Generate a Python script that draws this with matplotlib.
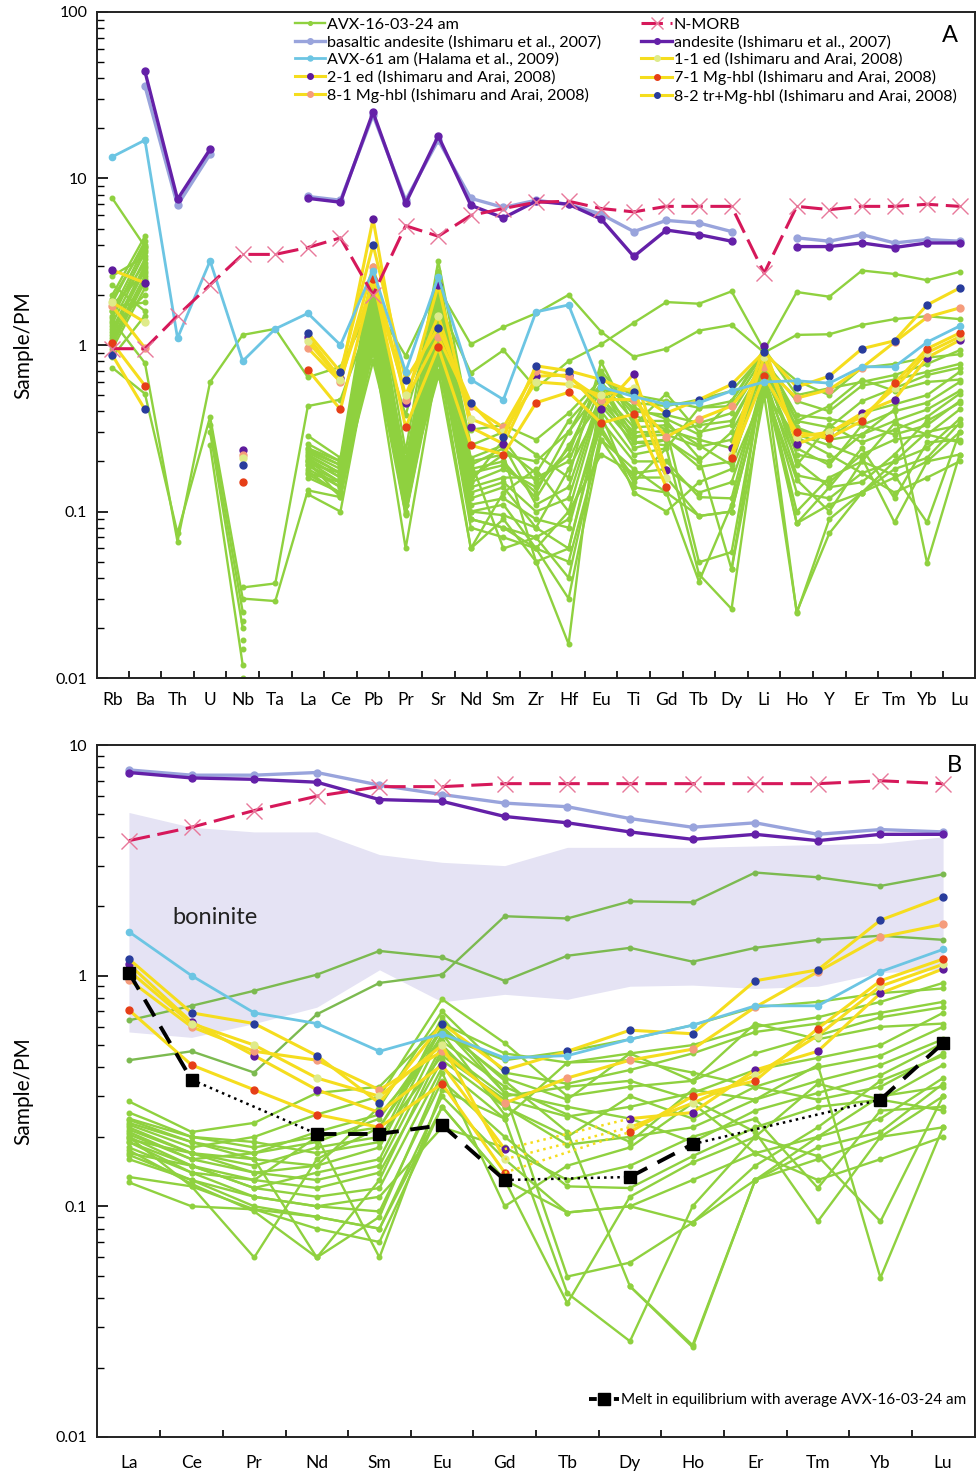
import numpy as np
import matplotlib.pyplot as plt
from matplotlib.lines import Line2D
from matplotlib.ticker import FixedLocator, FixedFormatter, NullFormatter

plt.rcParams['font.family'] = ['Lato', 'DejaVu Sans']

N = np.nan

# element order of the spider diagram (panel A) and REE subset (panel B)
elements = ['Rb', 'Ba', 'Th', 'U', 'Nb', 'Ta', 'La', 'Ce', 'Pb', 'Pr', 'Sr', 'Nd', 'Sm', 'Zr',
            'Hf', 'Eu', 'Ti', 'Gd', 'Tb', 'Dy', 'Li', 'Ho', 'Y', 'Er', 'Tm', 'Yb', 'Lu']
ree = ['La', 'Ce', 'Pr', 'Nd', 'Sm', 'Eu', 'Gd', 'Tb', 'Dy', 'Ho', 'Er', 'Tm', 'Yb', 'Lu']

# reference compositions (normalised to primitive mantle)
nmorb = [0.95, 0.95, 1.5, 2.3, 3.5, 3.5, 3.85, 4.4, 2.0, 5.2, 4.5, 6.0, 6.6, 7.2,
         7.3, 6.6, 6.3, 6.8, 6.8, 6.8, 2.7, 6.8, 6.5, 6.8, 6.8, 7.0, 6.8]
bas_andesite = [N, 36, 6.9, 14, N, N, 7.8, 7.4, 24, 7.4, 17, 7.6, 6.7, 7.4,
                7.0, 6.1, 4.8, 5.6, 5.4, 4.8, N, 4.4, 4.2, 4.6, 4.1, 4.3, 4.2]
andesite = [N, 44, 7.5, 15, N, N, 7.6, 7.2, 25, 7.1, 18, 6.9, 5.8, 7.3,
            7.0, 5.7, 3.4, 4.9, 4.6, 4.2, N, 3.9, 3.9, 4.1, 3.85, 4.1, 4.1]
avx61 = [13.5, 17, 1.1, 3.2, 0.8, 1.25, 1.55, 1.0, 2.8, 0.69, 2.56, 0.62, 0.47, 1.58,
         1.74, 0.56, 0.49, 0.44, 0.45, 0.53, 0.6, 0.61, 0.59, 0.74, 0.74, 1.04, 1.3]

# Ishimaru and Arai (2008) amphiboles
ed_1_1 = [1.8, 1.37, N, N, 0.21, N, 1.05, 0.62, 2.4, 0.5, 1.5, 0.36, 0.3, 0.6,
          0.58, 0.5, 0.55, 0.16, N, 0.22, 0.85, 0.28, 0.3, 0.37, 0.55, 0.9, 1.12]
ed_2_1 = [2.82, 2.36, N, N, 0.234, N, 1.12, 0.63, 5.7, 0.45, 2.29, 0.32, 0.255, 0.65,
          0.66, 0.41, 0.67, 0.177, N, 0.24, 0.99, 0.255, 0.296, 0.39, 0.47, 0.84, 1.07]
hbl_7_1 = [1.03, 0.57, N, N, 0.15, N, 0.71, 0.41, 2.5, 0.32, 0.97, 0.25, 0.22, 0.45,
           0.52, 0.34, 0.385, 0.14, N, 0.21, 0.65, 0.30, 0.276, 0.35, 0.59, 0.95, 1.18]
hbl_8_1 = [1.71, 0.96, N, N, 0.22, N, 0.96, 0.6, 2.95, 0.47, 1.12, 0.43, 0.32, 0.70,
           0.64, 0.47, 0.47, 0.28, 0.36, 0.43, 0.74, 0.48, 0.54, 0.73, 1.04, 1.47, 1.67]
hbl_8_2 = [0.87, 0.41, N, N, 0.19, N, 1.18, 0.69, 4.0, 0.62, 1.27, 0.45, 0.28, 0.75,
           0.70, 0.62, 0.52, 0.39, 0.47, 0.58, 0.91, 0.56, 0.65, 0.95, 1.06, 1.74, 2.2]

# AVX-16-03-24 amphibole analyses
avx16 = [
    [1.4, 0.78, 0.066, 0.60, 1.15, 1.25, 0.64, 0.74, 1.8, 0.86, 2.2, 1.01, 1.28, 1.55, 2.0, 1.2, 0.85, 0.95, 1.22, 1.32, 0.9, 1.15, 1.16, 1.32, 1.43, 1.49, 1.43],
    [7.6, 3.9, N, N, 0.035, 0.037, 0.43, 0.47, 1.6, 0.38, 1.8, 0.68, 0.93, 0.55, 0.8, 1.01, 1.36, 1.81, 1.77, 2.1, 0.93, 2.08, 1.95, 2.8, 2.67, 2.45, 2.75],
    [0.73, 0.51, 0.074, 0.37, 0.03, 0.029, 0.134, 0.122, 1.2, 0.097, 0.9, 0.09, 0.08, 0.06, 0.05, 0.27, 0.18, 0.13, 0.094, 0.1, 0.6, 0.085, 0.11, 0.13, 0.16, 0.2, 0.3],
    [2.0, 4.5, N, N, N, N, 0.285, 0.21, 3.0, 0.23, 3.2, 0.31, 0.33, 0.27, 0.39, 0.62, 0.5, 0.46, 0.42, 0.46, 0.95, 0.5, 0.55, 0.6, 0.66, 0.77, 0.93],
    [1.8, 4.2, N, N, N, N, 0.255, 0.2, 2.6, 0.18, 2.8, 0.2, 0.22, 0.2, 0.3, 0.55, 0.45, 0.43, 0.47, 0.53, 0.88, 0.61, 0.5, 0.73, 0.77, 0.84, 0.88],
    [1.6, 3.9, N, 0.33, 0.025, N, 0.237, 0.19, 2.3, 0.16, 2.5, 0.15, 0.27, 0.15, 0.22, 0.7, 0.4, 0.38, 0.34, 0.39, 0.8, 0.46, 0.4, 0.57, 0.62, 0.69, 0.77],
    [1.5, 3.6, N, N, N, N, 0.226, 0.18, 2.0, 0.2, 2.2, 0.25, 0.3, 0.22, 0.16, 0.79, 0.33, 0.51, 0.3, 0.33, 0.78, 0.35, 0.32, 0.46, 0.55, 0.66, 0.73],
    [1.35, 3.3, N, 0.3, 0.02, N, 0.215, 0.17, 1.9, 0.15, 2.0, 0.18, 0.2, 0.12, 0.25, 0.45, 0.28, 0.29, 0.245, 0.27, 0.72, 0.31, 0.27, 0.39, 0.44, 0.5, 0.69],
    [1.25, 3.0, N, N, 0.022, N, 0.205, 0.16, 1.7, 0.14, 1.8, 0.13, 0.15, 0.1, 0.12, 0.5, 0.24, 0.27, 0.185, 0.2, 0.7, 0.22, 0.2, 0.29, 0.35, 0.41, 0.53],
    [1.2, 2.8, N, N, N, N, 0.19, 0.15, 1.6, 0.12, 1.6, 0.11, 0.12, 0.09, 0.08, 0.4, 0.22, 0.24, 0.42, 0.43, 0.85, 0.38, 0.36, 0.33, 0.29, 0.33, 0.46],
    [1.1, 2.6, N, 0.25, 0.012, N, 0.18, 0.14, 1.4, 0.11, 1.4, 0.1, 0.095, 0.08, 0.06, 0.35, 0.2, 0.2, 0.122, 0.12, 0.66, 0.165, 0.15, 0.22, 0.27, 0.29, 0.41],
    [1.0, 2.4, N, N, 0.017, N, 0.167, 0.13, 1.3, 0.1, 1.2, 0.09, 0.08, 0.07, 0.04, 0.3, 0.16, 0.16, 0.094, 0.1, 0.6, 0.13, 0.12, 0.17, 0.2, 0.24, 0.36],
    [0.95, 2.2, N, N, N, N, 0.127, 0.1, 1.1, 0.097, 1.0, 0.08, 0.07, 0.06, 0.03, 0.27, 0.14, 0.13, 0.038, 0.11, 0.55, 0.155, 0.1, 0.2, 0.165, 0.086, 0.3],
    [1.3, 2.0, N, N, 0.015, N, 0.2, 0.122, 1.0, 0.06, 0.8, 0.16, 0.22, 0.05, 0.016, 0.6, 0.35, 0.35, 0.21, 0.045, 0.5, 0.025, 0.074, 0.13, 0.2, 0.3, 0.33],
    [1.7, 1.8, N, N, N, N, 0.22, 0.17, 0.9, 0.16, 0.7, 0.06, 0.13, 0.18, 0.1, 0.48, 0.3, 0.3, 0.33, 0.35, 0.75, 0.29, 0.25, 0.21, 0.086, 0.2, 0.22],
    [2.3, 1.6, N, N, 0.01, N, 0.19, 0.14, 0.8, 0.13, 0.65, 0.2, 0.06, 0.07, 0.09, 0.32, 0.15, 0.24, 0.042, 0.026, 0.62, 0.1, 0.16, 0.2, 0.34, 0.29, 0.26],
    [2.6, 3.4, N, N, N, N, 0.24, 0.2, 2.1, 0.19, 1.9, 0.17, 0.19, 0.13, 0.3, 0.66, 0.38, 0.31, 0.0496, 0.057, 0.7, 0.085, 0.14, 0.15, 0.22, 0.35, 0.45],
    [1.45, 3.7, N, N, N, N, 0.17, 0.15, 2.2, 0.12, 2.4, 0.14, 0.16, 0.16, 0.2, 0.56, 0.26, 0.25, N, 0.045, 0.72, 0.0245, 0.09, 0.13, 0.18, 0.21, 0.34],
    [1.15, 2.9, N, N, N, N, 0.21, 0.16, 1.5, 0.17, 1.7, 0.21, 0.25, 0.11, 0.14, 0.52, 0.32, 0.33, 0.25, 0.19, 0.82, 0.32, 0.27, 0.29, 0.41, 0.049, 0.22],
    [1.9, 4.0, N, N, N, N, 0.23, 0.19, 2.8, 0.17, 2.6, 0.19, 0.24, 0.17, 0.35, 0.58, 0.42, 0.36, 0.29, 0.46, 0.9, 0.35, 0.43, 0.62, 0.53, 0.6, 0.62],
    [1.05, 2.5, N, N, N, N, 0.2, 0.15, 1.35, 0.13, 1.3, 0.12, 0.14, 0.08, 0.18, 0.43, 0.26, 0.27, 0.2, 0.3, 0.68, 0.24, 0.19, 0.33, 0.4, 0.45, 0.6],
    [0.85, 1.5, N, N, N, N, 0.175, 0.125, 0.95, 0.095, 0.85, 0.06, 0.09, 0.05, 0.06, 0.38, 0.13, 0.1, 0.15, 0.18, 0.52, 0.28, 0.22, 0.17, 0.13, 0.16, 0.2],
    [1.6, 3.1, N, N, N, N, 0.195, 0.17, 1.8, 0.14, 2.1, 0.15, 0.18, 0.14, 0.24, 0.6, 0.28, 0.31, 0.27, 0.24, 0.78, 0.19, 0.33, 0.26, 0.31, 0.37, 0.51],
    [1.75, 2.7, N, N, N, N, 0.16, 0.13, 1.2, 0.11, 1.1, 0.1, 0.11, 0.06, 0.1, 0.22, 0.17, 0.18, 0.13, 0.15, 0.58, 0.2, 0.14, 0.24, 0.12, 0.26, 0.27],
]

# panel B only
melt = [1.03, 0.354, N, 0.206, 0.206, 0.225, 0.13, N, 0.134, 0.186, N, N, 0.29, 0.51]
boninite_hi = [5.1, 4.4, 4.2, 4.2, 3.35, 3.1, 3.0, 3.6, 3.6, 3.6, 3.65, 3.7, 3.75, 4.0]
boninite_lo = [0.57, 0.54, 0.62, 0.73, 1.06, 0.77, 0.83, 0.79, 0.9, 0.91, 0.88, 0.9, 1.03, 1.06]

GREEN = '#8fd13f'
GREEN_DK = '#7cba50'
YELLOW = '#f5dd1e'
BLUE = '#6cc5e3'
LAV = '#99a4dc'
VIOLET = '#6420a8'
CRIMSON = '#d6185a'

ree_idx = [elements.index(e) for e in ree]


def sub(vals, idx):
    return np.array([vals[i] for i in idx], dtype=float)


yellow_series = [
    (ed_2_1, '#5e1a9c', '2-1 ed (Ishimaru and Arai, 2008)'),
    (hbl_8_1, '#f59c7c', '8-1 Mg-hbl (Ishimaru and Arai, 2008)'),
    (ed_1_1, '#dfeb8a', '1-1 ed (Ishimaru and Arai, 2008)'),
    (hbl_7_1, '#e63e17', '7-1 Mg-hbl (Ishimaru and Arai, 2008)'),
    (hbl_8_2, '#283c9c', '8-2 tr+Mg-hbl (Ishimaru and Arai, 2008)'),
]

fig = plt.figure(figsize=(9.76, 14.75), dpi=100)
axA = fig.add_axes([0.0994, 0.5403, 0.8996, 0.4516])
axB = fig.add_axes([0.0994, 0.0258, 0.8996, 0.4691])


def draw_panel(ax, idx, is_b):
    x = np.arange(len(idx))
    h = {}
    for k, row in enumerate(avx16):
        col = GREEN_DK if (is_b and k < 2) else GREEN
        ln, = ax.plot(x, sub(row, idx), '-o', color=col, lw=1.7, ms=3.3, zorder=2)
        if k == 0:
            h['avx16'] = ln
    for vals, mc, lab in yellow_series:
        y = sub(vals, idx)
        ln, = ax.plot(x, y, '-o', color=YELLOW, lw=2.2, ms=5, mfc=mc, mec=mc, zorder=3)
        h[lab] = ln
        if is_b:
            # dotted bridge over a missing Tb
            g, t, d = ree.index('Gd'), ree.index('Tb'), ree.index('Dy')
            if np.isnan(y[t]):
                ax.plot([g, d], [y[g], y[d]], ':', color=YELLOW, lw=1.8, zorder=3)
    h['avx61'], = ax.plot(x, sub(avx61, idx), '-o', color=BLUE, lw=2.0, ms=4.5, zorder=4)
    h['bas'], = ax.plot(x, sub(bas_andesite, idx), '-o', color=LAV, lw=2.4, ms=5, zorder=5)
    h['and'], = ax.plot(x, sub(andesite, idx), '-o', color=VIOLET, lw=2.4, ms=5, zorder=6)
    h['nmorb'], = ax.plot(x, sub(nmorb, idx), '--x', color=CRIMSON, lw=2.2, dashes=(7, 2.5),
                          ms=11, mec='#e8789a', mew=1.0, zorder=7)

    ax.set_yscale('log')
    ax.set_xlim(-0.47 if not is_b else -0.51, len(idx) - 0.53 if not is_b else len(idx) - 0.49)
    ax.set_xticks(x)
    ax.set_xticklabels([elements[i] for i in idx], fontsize=12.5)
    ax.xaxis.set_minor_locator(FixedLocator(np.arange(0.5, len(idx) - 1, 1.0)))
    ax.tick_params(axis='x', which='major', length=0, pad=13 if is_b else 10)
    ax.tick_params(axis='x', which='minor', direction='in', length=5, width=1.2, bottom=True, top=False)
    ax.tick_params(axis='y', which='major', direction='in', length=8, width=1.2, labelsize=11.5,
                   left=True, right=False, pad=7)
    ax.tick_params(axis='y', which='minor', direction='in', length=5, width=1.0, left=True, right=False)
    ax.yaxis.set_minor_formatter(NullFormatter())
    ax.set_ylabel('Sample/PM', fontsize=15, labelpad=16)
    for s in ax.spines.values():
        s.set_color('#222222')
        s.set_linewidth(1.4)
    return h


hA = draw_panel(axA, list(range(len(elements))), False)
axA.set_ylim(0.01, 100)
ticksA = [0.01, 0.1, 1, 10, 100]
axA.yaxis.set_major_locator(FixedLocator(ticksA))
axA.yaxis.set_major_formatter(FixedFormatter(['0.01', '0.1', '1', '10', '100']))
axA.text(0.9715, 0.964, 'A', transform=axA.transAxes, fontsize=17, ha='center', va='center')

handles = [hA['avx16'], hA['bas'], hA['avx61'], hA['2-1 ed (Ishimaru and Arai, 2008)'],
           hA['8-1 Mg-hbl (Ishimaru and Arai, 2008)'], hA['nmorb'], hA['and'],
           hA['1-1 ed (Ishimaru and Arai, 2008)'], hA['7-1 Mg-hbl (Ishimaru and Arai, 2008)'],
           hA['8-2 tr+Mg-hbl (Ishimaru and Arai, 2008)']]
labels = ['AVX-16-03-24 am', 'basaltic andesite (Ishimaru et al., 2007)',
          'AVX-61 am (Halama et al., 2009)', '2-1 ed (Ishimaru and Arai, 2008)',
          '8-1 Mg-hbl (Ishimaru and Arai, 2008)', 'N-MORB', 'andesite (Ishimaru et al., 2007)',
          '1-1 ed (Ishimaru and Arai, 2008)', '7-1 Mg-hbl (Ishimaru and Arai, 2008)',
          '8-2 tr+Mg-hbl (Ishimaru and Arai, 2008)']
axA.legend(handles, labels, ncol=2, loc='upper right', bbox_to_anchor=(0.99, 1.006),
           frameon=False, fontsize=11.6, handlelength=1.9, handletextpad=0.1,
           labelspacing=0.2, columnspacing=2.5, borderaxespad=0.2, markerscale=0.8)

# panel B
xb = np.arange(len(ree))
axB.fill_between(xb, boninite_lo, boninite_hi, color='#e5e3f4', lw=0, zorder=0)
hB = draw_panel(axB, ree_idx, True)
axB.set_ylim(0.01, 10)
axB.yaxis.set_major_locator(FixedLocator([0.01, 0.1, 1, 10]))
axB.yaxis.set_major_formatter(FixedFormatter(['0.01', '0.1', '1', '10']))
axB.text(1.37, 1.78, 'boninite', fontsize=17, ha='center', va='center', color='#222222')
axB.text(0.977, 0.97, 'B', transform=axB.transAxes, fontsize=17, ha='center', va='center')

melt_arr = np.array(melt, dtype=float)
valid = [i for i in range(len(melt_arr)) if not np.isnan(melt_arr[i])]
for a, b in zip(valid[:-1], valid[1:]):
    if b == a + 1:
        axB.plot([a, b], [melt_arr[a], melt_arr[b]], color='black', lw=2.8, dashes=(5, 3), zorder=8)
    else:
        axB.plot([a, b], [melt_arr[a], melt_arr[b]], ':', color='black', lw=1.8, zorder=8)
axB.plot(xb, melt_arr, 's', color='black', ms=9, lw=0, zorder=9)
melt_handle = Line2D([], [], color='black', lw=2.8, dashes=(2, 1.2), marker='s', ms=8)
axB.legend([melt_handle], ['Melt in equilibrium with average AVX-16-03-24 am'], loc='lower right',
           bbox_to_anchor=(1.0, 0.03), frameon=False, fontsize=11, handlelength=2.0,
           handletextpad=0.1, borderaxespad=0.2)

fig.savefig('out.png', dpi=100)
